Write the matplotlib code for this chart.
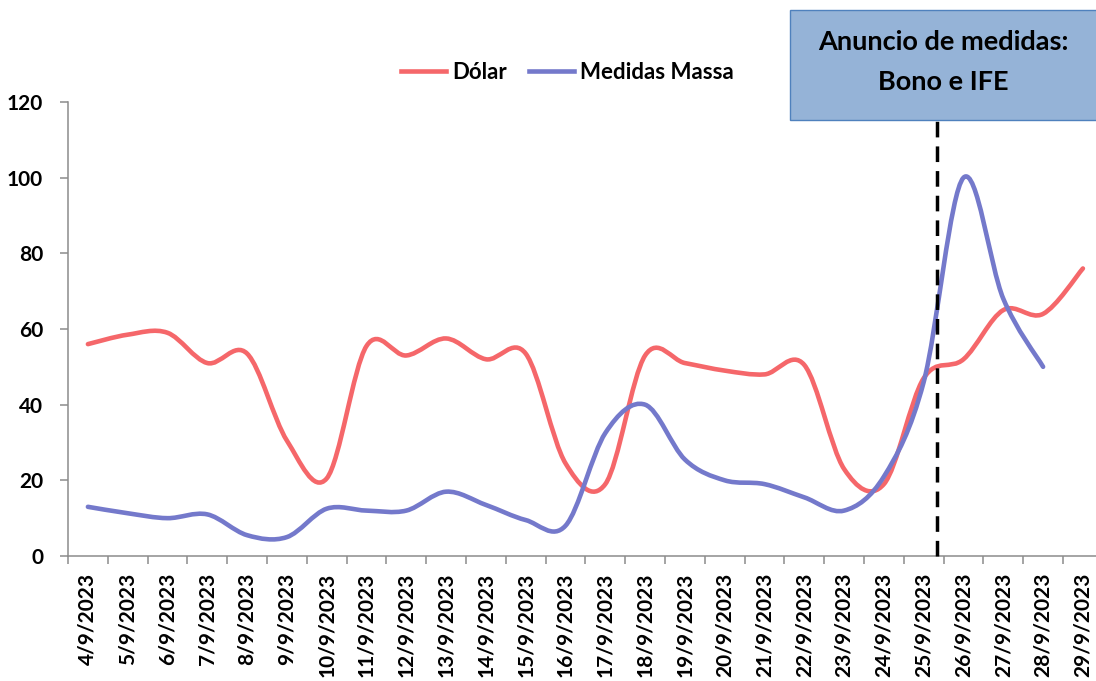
import matplotlib
matplotlib.use("Agg")
import matplotlib.pyplot as plt
from matplotlib.path import Path
from matplotlib.patches import PathPatch, Rectangle
from matplotlib.lines import Line2D
import numpy as np

plt.rcParams['font.family'] = ['Lato', 'DejaVu Sans']
plt.rcParams['font.weight'] = 'bold'

# categories (days of September 2023)
dates = ['4/9/2023', '5/9/2023', '6/9/2023', '7/9/2023', '8/9/2023', '9/9/2023',
         '10/9/2023', '11/9/2023', '12/9/2023', '13/9/2023', '14/9/2023', '15/9/2023',
         '16/9/2023', '17/9/2023', '18/9/2023', '19/9/2023', '20/9/2023', '21/9/2023',
         '22/9/2023', '23/9/2023', '24/9/2023', '25/9/2023', '26/9/2023', '27/9/2023',
         '28/9/2023', '29/9/2023']
# series values
dolar = [56, 58.5, 59, 51, 53.5, 30.5, 20.5, 55.5, 53, 57.5, 52, 53.5,
         24.5, 19, 53, 51, 49, 48, 50.5, 23, 19, 47, 52, 65, 64, 76]
medidas = [13, 11.3, 10, 11, 5.5, 5, 12.5, 12, 12, 17, 13.5, 9.5,
           8, 32.5, 40, 25.5, 20, 19, 15.5, 12, 21, 46, 100, 68, 50]
yticks = [0, 20, 40, 60, 80, 100, 120]

event_x = 21.33   # "anuncio" marker, between 25/9 and 26/9
red = '#F5676A'
blue = '#7479CB'


def smooth_path(ys):
    # Excel-like smoothed line: Catmull-Rom control points as cubic Bezier
    pts = np.column_stack([np.arange(len(ys)), ys]).astype(float)
    verts = [pts[0]]
    codes = [Path.MOVETO]
    n = len(pts)
    for i in range(n - 1):
        p0 = pts[i - 1] if i > 0 else pts[i]
        p1 = pts[i]
        p2 = pts[i + 1]
        p3 = pts[i + 2] if i + 2 < n else pts[i + 1]
        c1 = p1 + (p2 - p0) / 6.0
        c2 = p2 - (p3 - p1) / 6.0
        verts += [c1, c2, p2]
        codes += [Path.CURVE4] * 3
    return Path(verts, codes)


fig = plt.figure(figsize=(10.96, 6.81), dpi=100)
ax = fig.add_axes([68 / 1096, 1 - 556 / 681, 26 * 39.8 / 1096, (556 - 102) / 681])

for ys, col in [(dolar, red), (medidas, blue)]:
    ax.add_patch(PathPatch(smooth_path(ys), facecolor='none', edgecolor=col,
                           lw=3.3, capstyle='round', joinstyle='round', zorder=3))

ax.plot([event_x, event_x], [0, 115.3], color='black', lw=2.5,
        dashes=(4.5, 2.6), clip_on=False, zorder=4)

ax.set_xlim(-0.5, len(dates) - 0.5)
ax.set_ylim(0, 120)
ax.set_yticks(yticks)
ax.set_xticks(np.arange(len(dates)))
ax.set_xticklabels(dates, rotation=90, fontsize=15, fontweight='bold')
ax.set_xticks(np.arange(len(dates) + 1) - 0.5, minor=True)
ax.tick_params(axis='x', which='major', length=0, pad=12)
ax.tick_params(axis='x', which='minor', length=6, width=1.1, color='#8C8C8C')
ax.tick_params(axis='y', length=6, width=1.1, color='#8C8C8C', pad=12, labelsize=15)
for lab in ax.get_yticklabels():
    lab.set_fontweight('bold')

for s in ['top', 'right']:
    ax.spines[s].set_visible(False)
for s in ['left', 'bottom']:
    ax.spines[s].set_color('#8C8C8C')
    ax.spines[s].set_linewidth(1.1)

handles = [Line2D([], [], color=red, lw=3.3), Line2D([], [], color=blue, lw=3.3)]
fig.legend(handles, ['Dólar', 'Medidas Massa'], loc='center',
           bbox_to_anchor=(0.518, 0.894), ncol=2, frameon=False,
           prop={'weight': 'bold', 'size': 16}, handlelength=2.0,
           handletextpad=0.3, columnspacing=1.0)

fig.patches.append(Rectangle((790 / 1096, 1 - 120 / 681), 0.3, 110 / 681,
                             transform=fig.transFigure, facecolor='#95B3D7',
                             edgecolor='#4F81BD', lw=1.0, zorder=5))
fig.text(0.861, 1 - 42 / 681, 'Anuncio de medidas:', ha='center', va='center',
         fontsize=19.5, fontweight='bold', zorder=6)
fig.text(0.861, 1 - 82 / 681, 'Bono e IFE', ha='center', va='center',
         fontsize=19.5, fontweight='bold', zorder=6)

fig.savefig('out.png', dpi=100)
